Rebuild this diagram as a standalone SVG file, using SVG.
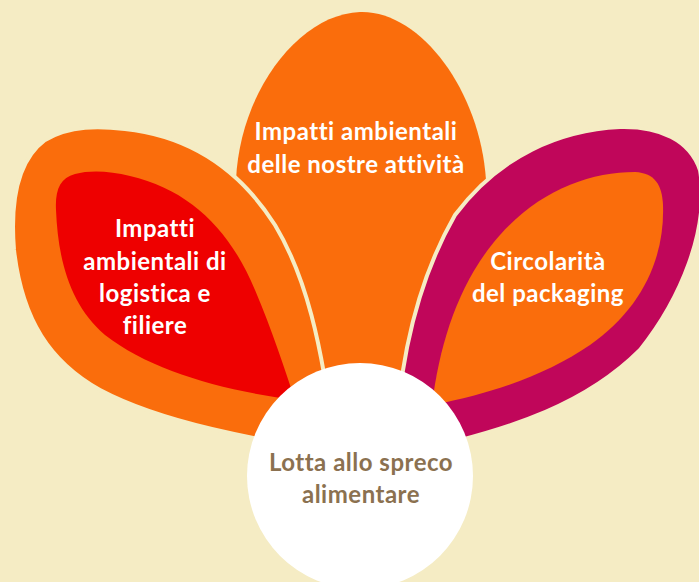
<svg xmlns="http://www.w3.org/2000/svg" width="699" height="582" viewBox="0 0 699 582">
<style>
.lbl{font-family:Lato,"Open Sans","Liberation Sans",sans-serif;font-weight:700;font-size:24px;letter-spacing:0.5px;text-anchor:middle;fill:#fff}
.dark{fill:#8B7150}
.gap{stroke:#F5ECC4;stroke-width:4}
</style>
<rect width="699" height="582" fill="#F5ECC4"/>
<g id="center-petal">
<path d="M360,12 C420,10 480,90 486,180 L400,470 L320,470 L236,180 C240,90 300,14 360,12 Z" fill="#FA6D0C"/>
<text class="lbl" x="356" y="140">Impatti ambientali</text>
<text class="lbl" x="356" y="173">delle nostre attività</text>
</g>
<g id="left-petal">
<path class="gap" d="M335,450 C260,442 160,422 100,390 C50,362 22,320 14,250 C10,200 18,160 45,140 C70,125 100,126 125,129 C190,136 240,170 275,225 C305,275 322,340 335,450 Z" fill="#FA6D0C"/>
<path d="M295,400 C220,390 150,370 105,335 C70,305 58,260 56,210 C55,190 60,178 75,174 C90,170 110,171 130,176 C190,190 230,230 255,290 C272,330 285,370 295,400 Z" fill="#EE0000"/>
<text class="lbl" x="155" y="237">Impatti</text>
<text class="lbl" x="155" y="270">ambientali di</text>
<text class="lbl" x="155" y="302">logistica e</text>
<text class="lbl" x="155" y="334">filiere</text>
</g>
<g id="right-petal">
<path class="gap" d="M395,455 C398,370 415,285 455,215 C500,155 560,130 620,127 C660,126 690,140 700,170 C710,230 680,300 640,350 C590,400 520,430 395,455 Z" fill="#C0065A"/>
<path d="M432,405 C440,340 460,280 500,235 C540,190 590,172 635,172 C655,173 662,185 663,205 C665,260 640,310 590,345 C550,372 500,392 432,405 Z" fill="#FA6D0C"/>
<text class="lbl" x="548" y="270">Circolarità</text>
<text class="lbl" x="548" y="302">del packaging</text>
</g>
<g id="connectors"/>
<g id="core">
<circle cx="360" cy="476" r="113" fill="#fff"/>
<text class="lbl dark" x="361" y="471">Lotta allo spreco</text>
<text class="lbl dark" x="361" y="503">alimentare</text>
</g>
</svg>
